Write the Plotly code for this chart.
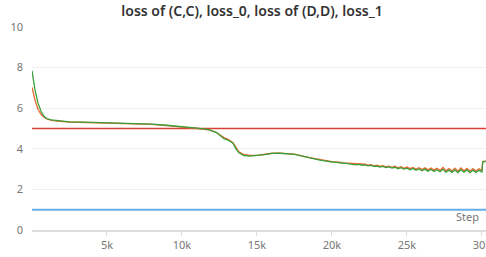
import plotly.graph_objects as go

# ---- data ----
smooth_steps = [0, 200, 400, 600, 800, 1000, 1300, 1700, 2500, 4000, 6000, 8000, 9000, 10000, 11000,
                11800, 12300, 12800, 13100, 13400, 13600, 13800, 14100, 14500, 15000, 15500, 16000,
                16500, 17500, 18500]
orange_smooth = [7.03, 6.40, 5.95, 5.70, 5.55, 5.47, 5.40, 5.36, 5.32, 5.29, 5.26, 5.20, 5.14, 5.08, 5.00,
                 4.93, 4.80, 4.55, 4.45, 4.30, 4.05, 3.85, 3.72, 3.67, 3.68, 3.73, 3.78,
                 3.79, 3.74, 3.56]
green_smooth = [7.85, 6.90, 6.25, 5.85, 5.60, 5.48, 5.42, 5.38, 5.33, 5.30, 5.27, 5.22, 5.16, 5.10, 5.02,
                4.94, 4.80, 4.50, 4.42, 4.28, 4.00, 3.80, 3.68, 3.64, 3.66, 3.71, 3.77,
                3.78, 3.73, 3.54]

noisy_steps = [19000, 19200, 19400, 19600, 19800, 20000, 20200, 20400, 20600, 20800,
               21000, 21200, 21400, 21600, 21800, 22000, 22200, 22400, 22600, 22800,
               23000, 23200, 23400, 23600, 23800, 24000, 24200, 24400, 24600, 24800,
               25000, 25200, 25400, 25600, 25800, 26000, 26200, 26400, 26600, 26800,
               27000, 27200, 27400, 27600, 27800, 28000, 28200, 28400, 28600, 28800,
               29000, 29200, 29400, 29600, 29800, 30000, 30050, 30200, 30300]
orange_noisy = [3.49, 3.46, 3.44, 3.41, 3.40, 3.37, 3.36, 3.33, 3.33, 3.31,
                3.30, 3.27, 3.28, 3.24, 3.26, 3.22, 3.24, 3.19, 3.22, 3.16,
                3.19, 3.13, 3.17, 3.11, 3.15, 3.09, 3.14, 3.06, 3.12, 3.04,
                3.10, 3.02, 3.08, 3.00, 3.07, 2.98, 3.06, 2.96, 3.05, 2.95,
                3.04, 2.93, 3.08, 2.92, 3.03, 2.91, 3.05, 2.90, 3.06, 2.92,
                3.04, 2.90, 3.03, 2.91, 3.02, 2.93, 3.37, 3.39, 3.39]
green_noisy = [3.47, 3.44, 3.42, 3.39, 3.38, 3.35, 3.34, 3.31, 3.30, 3.29,
               3.27, 3.25, 3.25, 3.21, 3.23, 3.19, 3.21, 3.16, 3.18, 3.13,
               3.15, 3.10, 3.13, 3.07, 3.11, 3.05, 3.09, 3.02, 3.07, 3.00,
               3.05, 2.97, 3.03, 2.94, 3.01, 2.92, 3.00, 2.90, 2.98, 2.88,
               2.97, 2.87, 2.99, 2.85, 2.95, 2.84, 2.96, 2.83, 2.97, 2.85,
               2.96, 2.83, 2.95, 2.84, 2.94, 2.86, 3.35, 3.37, 3.38]

line_steps = [0, 30300]
loss_0 = [5, 5]
loss_1 = [1, 1]

x_ticks = [5000, 10000, 15000, 20000, 25000, 30000]
x_tick_labels = ["5k", "10k", "15k", "20k", "25k", "30k"]
y_ticks = [0, 2, 4, 6, 8, 10]

FONT = "Noto Sans"

fig = go.Figure()
fig.add_trace(go.Scatter(x=line_steps, y=loss_1, mode="lines", name="loss_1",
                         line=dict(color="#67aee6", width=2)))
fig.add_trace(go.Scatter(x=line_steps, y=loss_0, mode="lines", name="loss_0",
                         line=dict(color="#d9403a", width=1.5)))
fig.add_trace(go.Scatter(x=smooth_steps + noisy_steps, y=orange_smooth + orange_noisy, mode="lines",
                         name="loss of (C,C)", line=dict(color="#e8692d", width=1.3)))
fig.add_trace(go.Scatter(x=smooth_steps + noisy_steps, y=green_smooth + green_noisy, mode="lines",
                         name="loss of (D,D)", line=dict(color="#3a9f3a", width=1.3)))

fig.update_layout(
    width=486, height=257,
    margin=dict(l=32, r=0, t=27, b=27, autoexpand=False),
    paper_bgcolor="white", plot_bgcolor="white",
    showlegend=False,
    font=dict(family=FONT, color="#777", size=11),
    title=dict(text="loss of (C,C), loss_0, loss of (D,D), loss_1", x=0.5185, xanchor="center",
               y=0.955, yanchor="middle", font=dict(family=FONT, size=14, color="#333", weight=600)),
)
fig.update_xaxes(range=[0, 30270], tickvals=x_ticks, ticktext=x_tick_labels, automargin=False,
                 ticklabeloverflow="allow",
                 showgrid=False, zeroline=False, showline=True, linecolor="#dddddd", linewidth=1.5,
                 ticks="outside", ticklen=4, tickcolor="#dddddd", tickfont=dict(size=11, color="#777"))
fig.update_yaxes(range=[0, 10], tickvals=y_ticks, showgrid=True, gridcolor="#f0f0f0", gridwidth=1,
                 automargin=False, zeroline=False, ticks="", ticklabelstandoff=8,
                 tickfont=dict(size=11, color="#777"))
fig.add_annotation(text="Step", xref="paper", yref="paper", x=0.99, y=0.02, xanchor="right",
                   yanchor="bottom", showarrow=False, font=dict(size=11, color="#777"))
fig.write_html("out.html", config={"displayModeBar": False},
               post_script="document.body.style.margin='0';document.body.style.overflow='hidden';")
